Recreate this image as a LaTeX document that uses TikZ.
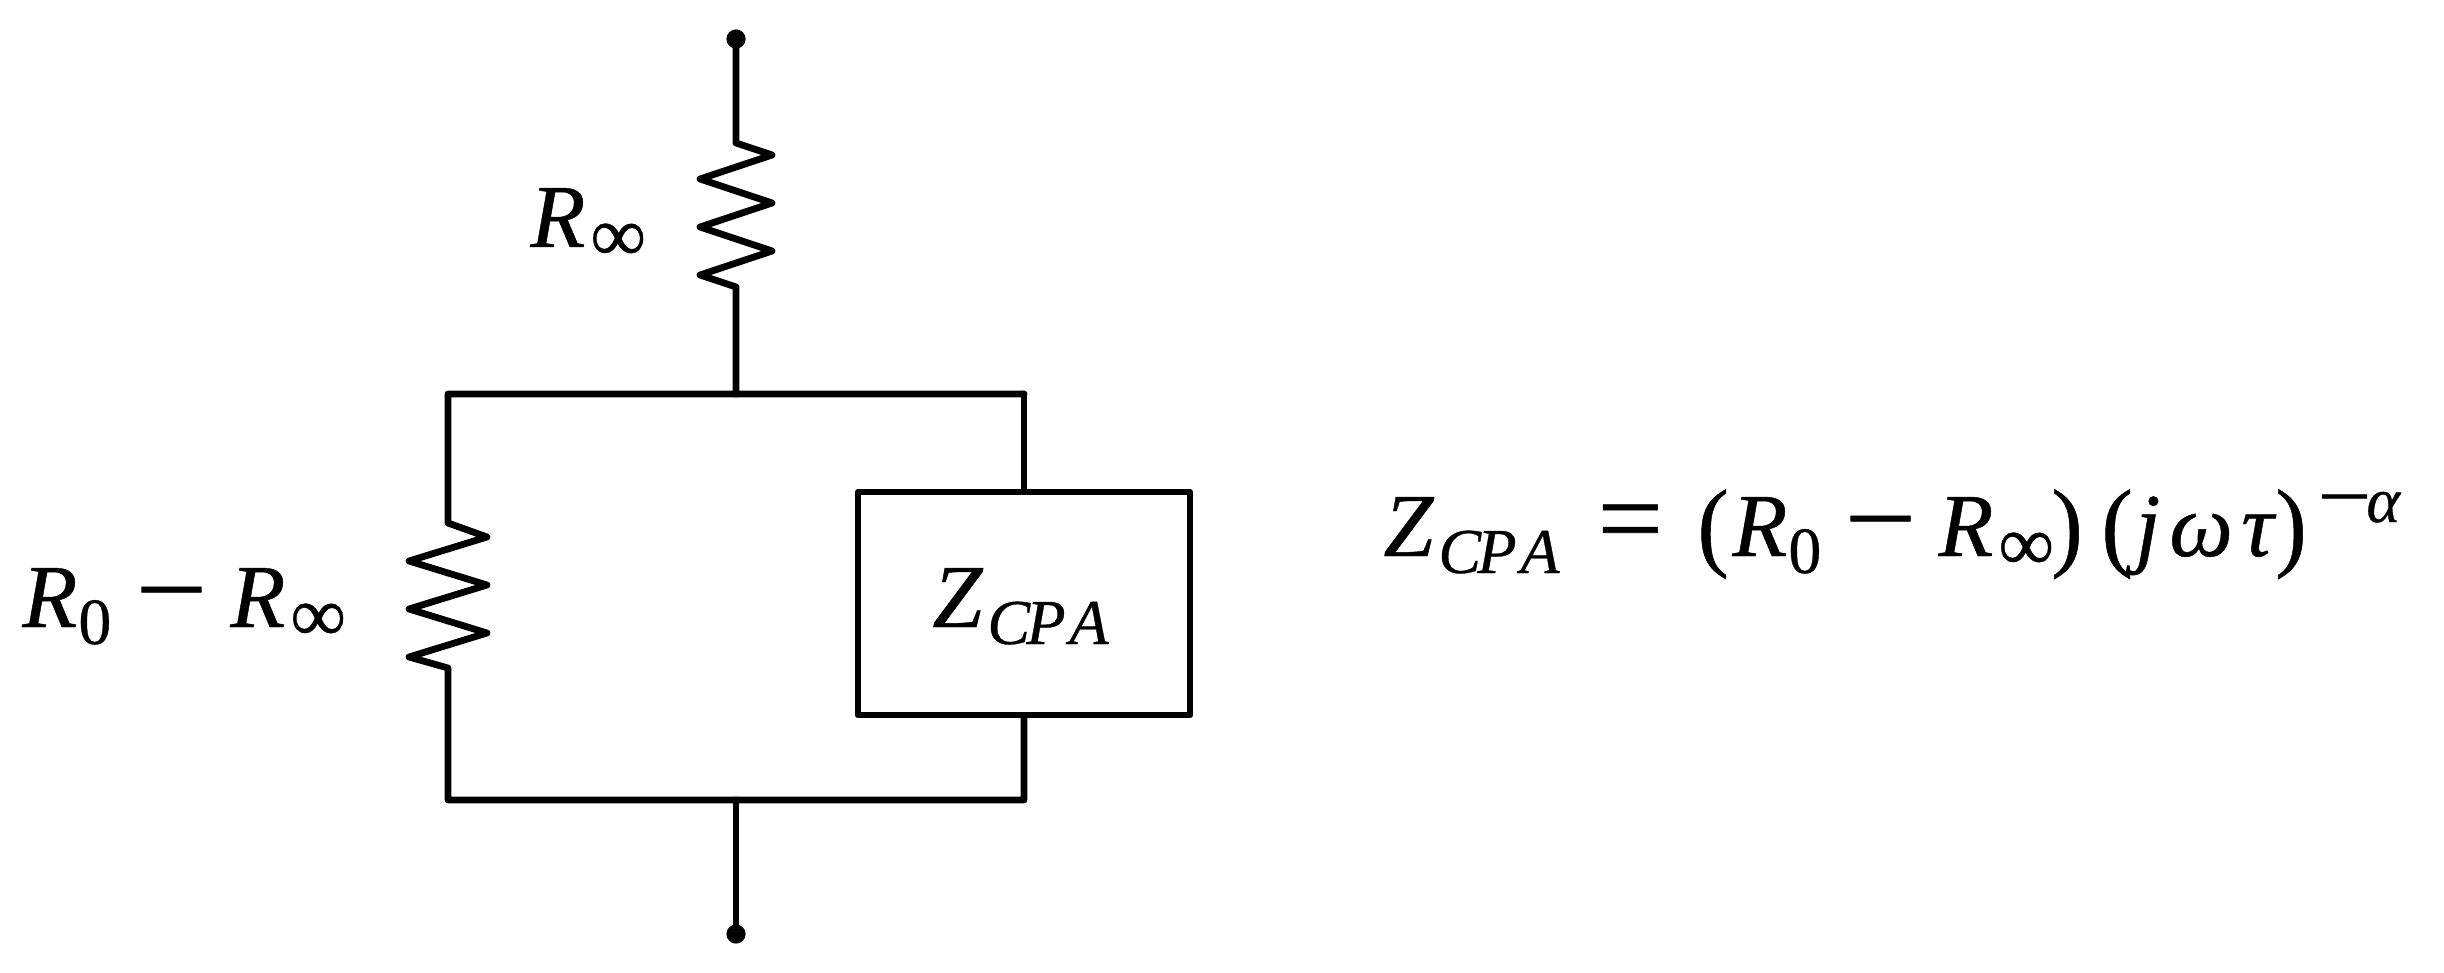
\documentclass[tikz,border=0pt]{standalone}
\usepackage{fontspec}
\setmainfont{Liberation Serif}
\newfontfamily\upf[FakeBold=0.5]{Liberation Serif}
\newfontfamily\itf[FakeBold=0.5]{Liberation Serif Italic}
\newcommand{\szM}{\fontsize{45}{50}\selectfont}
\newcommand{\szS}{\fontsize{32}{36}\selectfont}
\newlength{\pxu}\setlength{\pxu}{0.5pt}
\newcommand{\cell}[2]{\makebox[#1\pxu][l]{#2}}
\newcommand{\lowr}[1]{\raisebox{-17\pxu}{\szS #1}}
\newcommand{\rais}[1]{\raisebox{34\pxu}{\szS #1}}
\newcommand{\Zcpa}{\cell{55}{\itf\szM Z}\cell{39}{\lowr{\itf C}}\cell{43}{\lowr{\itf P}}\lowr{\itf A}}
\newcommand{\Rinf}{\cell{60}{\itf\szM R}\raisebox{-14\pxu}{\fontsize{39}{42}\selectfont\upf ∞}}
\newcommand{\Rzero}{\cell{56}{\itf\szM R}\raisebox{-17\pxu}{\fontsize{33}{36}\selectfont\upf 0}}
\newcommand{\mns}{\scalebox{1.42}[1.25]{\upf\szM −}}
\newcommand{\eqs}{\scalebox{1.3}[1.25]{\upf\szM =}}
\newcommand{\lp}{\raisebox{-2\pxu}{\scalebox{1.05}[1.1]{\upf\szM (}}}
\newcommand{\rp}{\raisebox{-2\pxu}{\scalebox{1.05}[1.1]{\upf\szM )}}}
\tikzset{
  x=0.5pt,y=-0.5pt,
  wire/.style={line width=3.4pt,line join=round,line cap=round,black},
  term/.style={circle,fill=black,inner sep=0pt,minimum size=9.6pt},
  lab/.style={inner sep=0pt,anchor=base west},
  box/.style={draw=black,line width=3.4pt,line join=round,fill=white,rectangle,inner sep=0pt,minimum width=166pt,minimum height=111.5pt,anchor=center}
}
\begin{document}
\begin{tikzpicture}
\useasboundingbox (0,0) rectangle (2444,973);
\coordinate (topW) at (736,394);
\coordinate (botW) at (736,800);
\coordinate (tl) at (448,394);
\coordinate (tr) at (1024,394);
\coordinate (bl) at (448,800);
\coordinate (br) at (1024,800);
\node[term] (t1) at (736,39) {};
\node[term] (t2) at (736,934) {};
\node[box] (zb) at (1024,603.5) {};
\draw[wire] (t1.center) -- (736,143) -- ++(36,12) -- ++(-72,24) -- ++(72,24) -- ++(-72,24) -- ++(72,24) -- ++(-72,24) -- (736,287) -- (topW);
\draw[wire] (tr) -- (tl) -- (448,523) -- ++(39,14) -- ++(-78,24) -- ++(78,24) -- ++(-78,24) -- ++(78,24) -- ++(-78,24) -- (448,668) -- (bl) -- (br) -- (zb.south);
\draw[wire] (tr) -- (zb.north);
\draw[wire] (botW) -- (t2.center);
\node[lab] (l1) at (530,247) {\Rinf};
\node[lab] (l2) at (22,627) {\cell{113}{\Rzero}\cell{95}{\mns}\Rinf};
\node[lab] (l3) at (932,627) {\Zcpa};
\node[lab] (l4) at (1383,556) {\cell{214}{\Zcpa}\cell{100}{\eqs}\cell{35}{\lp}\cell{112}{\Rzero}\cell{94}{\mns}\cell{113}{\Rinf}\cell{50}{\rp}\cell{34}{\lp}\cell{34}{\itf\szM j}\cell{72}{\itf\szM ω}\cell{34}{\itf\szM τ}\cell{42}{\rp}\cell{49}{\rais{\scalebox{1.5}[1.2]{\upf −}}}\rais{\itf α}};
\end{tikzpicture}
\end{document}
